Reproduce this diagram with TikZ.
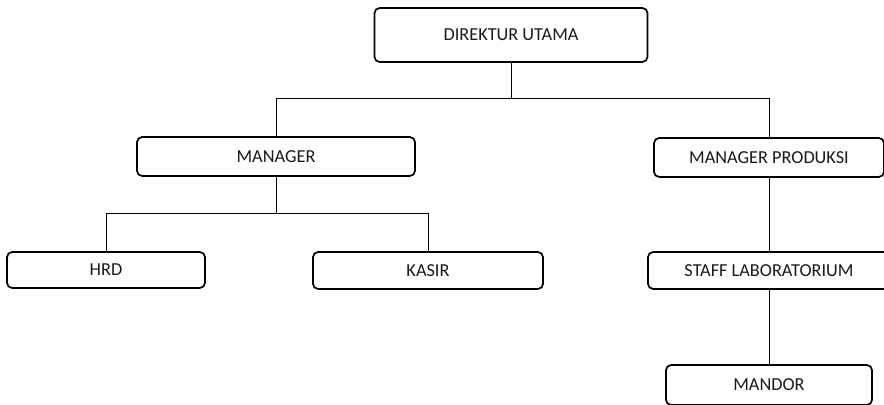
\documentclass[tikz,border=0pt]{standalone}
\usepackage{fontspec}
\setmainfont{Carlito}
\usetikzlibrary{positioning, calc}
\tikzset{
  org/.style={font=\fontsize{13}{15}\selectfont, x=0.025cm, y=-0.025cm},
  unit/.style={draw, line width=1.2pt, rounded corners=1.3mm, align=center,
               inner sep=2pt, text=black!90},
  ln/.style={line width=0.7pt}
}
\begin{document}
\begin{tikzpicture}[org]
    \useasboundingbox (0,0) rectangle (884,405);

    \node[unit, minimum width=68.25mm, minimum height=13.5mm] (dir) at (511,35) {DIREKTUR UTAMA};
    \node[unit, minimum width=69.5mm, minimum height=9.75mm] (mgr) at (276,156.5) {MANAGER};
    \node[unit, minimum width=57.5mm, minimum height=9.75mm] (prod) at (769,157.5) {MANAGER PRODUKSI};
    \node[unit, minimum width=49.5mm, minimum height=9mm] (hrd) at (106,270) {HRD};
    \node[unit, minimum width=57.5mm, minimum height=9.25mm] (kasir) at (428,270.5) {KASIR};
    \node[unit, minimum width=60.5mm, minimum height=9.25mm] (staff) at (769,270.5) {STAFF LABORATORIUM};
    \node[unit, minimum width=51.5mm, minimum height=10mm] (mandor) at (769,385) {MANDOR};

    \coordinate (busA) at (0,98);
    \coordinate (busB) at (0,213);

    \draw[ln] (dir.south) -- (dir.south |- busA) -| (mgr.north);
    \draw[ln] (dir.south |- busA) -| (prod.north);
    \draw[ln] (mgr.south) -- (mgr.south |- busB) -| (hrd.north);
    \draw[ln] (mgr.south |- busB) -| (kasir.north);
    \draw[ln] (prod.south) -- (staff.north);
    \draw[ln] (staff.south) -- (mandor.north);
\end{tikzpicture}
\end{document}
